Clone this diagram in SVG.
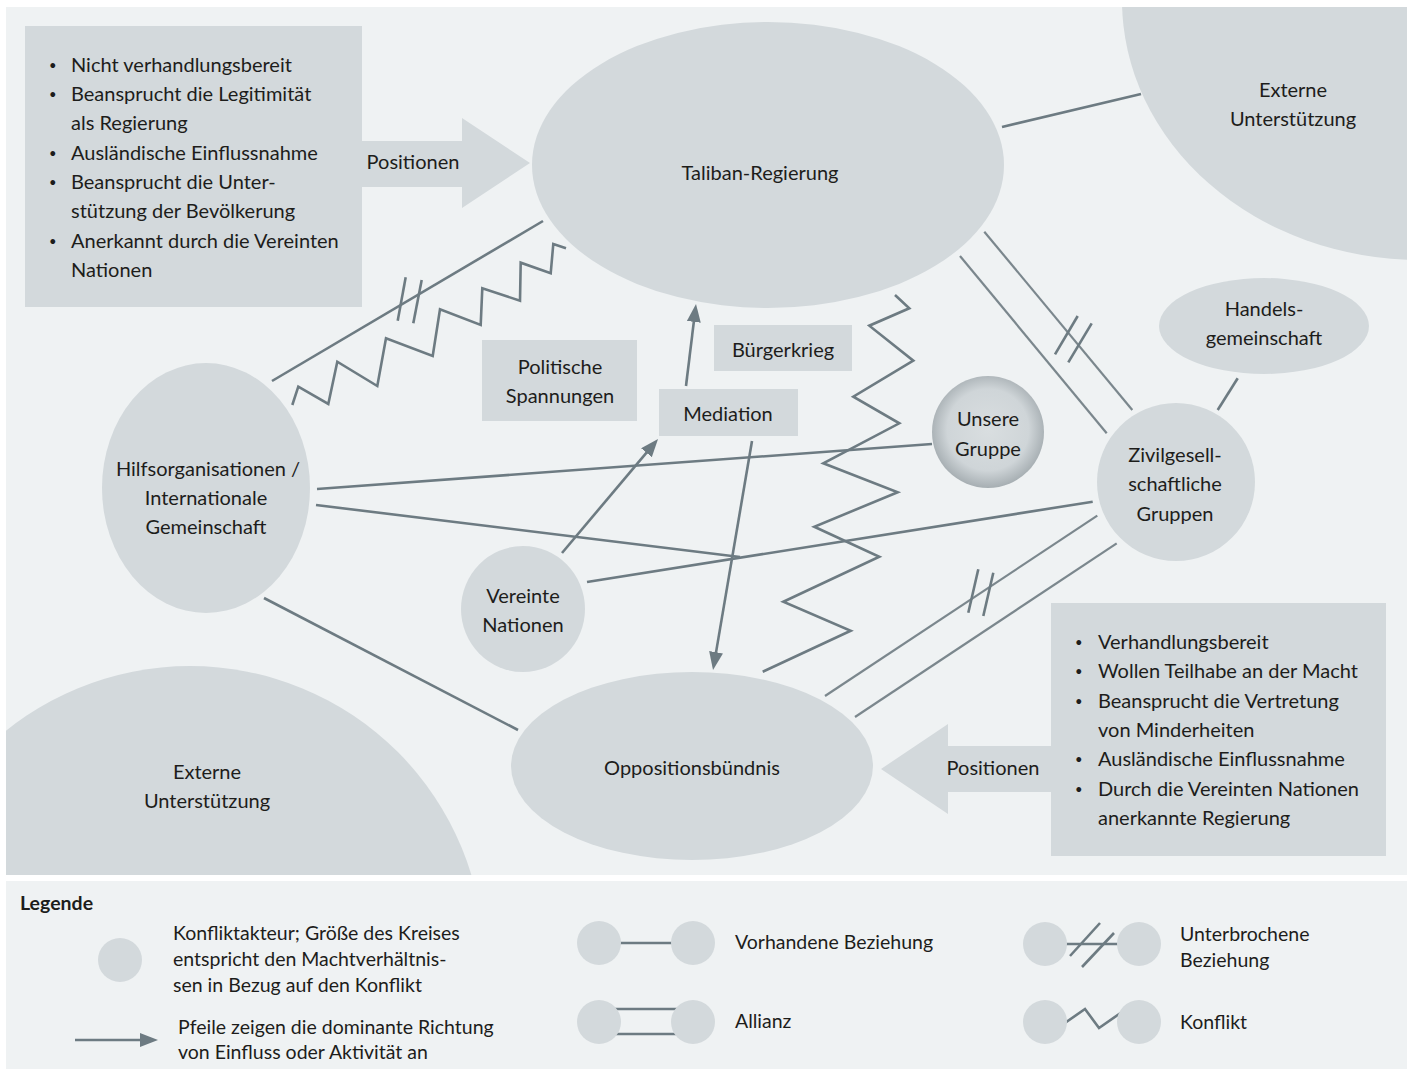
<svg xmlns="http://www.w3.org/2000/svg" width="1413" height="1074" viewBox="0 0 1413 1074">
<defs>
<style>
.t{font-family:Lato,"Open Sans","Liberation Sans",sans-serif;font-size:20px;fill:#1d1d1b}
.lg{font-size:19.5px}
.bu{font-size:13px}
.c{text-anchor:middle}
.b{font-weight:bold}
.node{fill:#d3d9dc}
.box{fill:#d3d9dc}
.ln{stroke:#6d7b82;stroke-width:2.6;fill:none}
.al{stroke:#7b878d;stroke-width:2.2;fill:none}
.zz{stroke:#6d7b82;stroke-width:2.6;fill:none;stroke-linejoin:miter}
.arr{stroke:#6d7b82;stroke-width:2.6;fill:none;marker-end:url(#ah)}
</style>
<marker id="ah" markerUnits="userSpaceOnUse" markerWidth="20" markerHeight="16" refX="8" refY="7" orient="auto">
<path d="M0,0 L18,7 L0,14 z" fill="#6d7b82"/>
</marker>
<radialGradient id="ug" cx="0.5" cy="0.48" r="0.52">
<stop offset="0" stop-color="#d9dee0"/>
<stop offset="0.7" stop-color="#cfd5d8"/>
<stop offset="1" stop-color="#a6aeb2"/>
</radialGradient>
<clipPath id="pc"><rect x="6" y="7" width="1401" height="868"/></clipPath>
</defs>

<rect x="0" y="0" width="1413" height="1074" fill="#ffffff"/>
<rect id="panel" x="6" y="7" width="1401" height="868" fill="#eff2f3"/>
<rect id="legend-bg" x="6" y="881" width="1401" height="188" fill="#eff2f3"/>

<g id="ext-top" clip-path="url(#pc)">
<ellipse class="node" cx="1420" cy="0" rx="298" ry="260"/>
<text class="t c" x="1293" y="97">Externe</text>
<text class="t c" x="1293" y="126">Unterstützung</text>
</g>
<g id="ext-bottom" clip-path="url(#pc)">
<circle class="node" cx="190" cy="960" r="294"/>
<text class="t c" x="207" y="779">Externe</text>
<text class="t c" x="207" y="808">Unterstützung</text>
</g>

<g id="positions-top">
<rect class="box" x="25" y="26" width="337" height="281"/>
<polygon class="box" points="362,141 462,141 462,118 530,163 462,208 462,187 362,187"/>
<text class="t bu" x="49" y="70">•</text><text class="t" x="71" y="72">Nicht verhandlungsbereit</text>
<text class="t bu" x="49" y="99">•</text><text class="t" x="71" y="101">Beansprucht die Legitimität</text>
<text class="t" x="71" y="130">als Regierung</text>
<text class="t bu" x="49" y="158">•</text><text class="t" x="71" y="160">Ausländische Einflussnahme</text>
<text class="t bu" x="49" y="187">•</text><text class="t" x="71" y="189">Beansprucht die Unter-</text>
<text class="t" x="71" y="218">stützung der Bevölkerung</text>
<text class="t bu" x="49" y="246">•</text><text class="t" x="71" y="248">Anerkannt durch die Vereinten</text>
<text class="t" x="71" y="277">Nationen</text>
<text class="t c" x="413" y="169">Positionen</text>
</g>

<g id="positions-bottom">
<rect class="box" x="1051" y="603" width="335" height="253"/>
<polygon class="box" points="1051,746 948,746 948,724 881,769 948,814 948,792 1051,792"/>
<text class="t bu" x="1075" y="647">•</text><text class="t" x="1098" y="649">Verhandlungsbereit</text>
<text class="t bu" x="1075" y="676">•</text><text class="t" x="1098" y="678">Wollen Teilhabe an der Macht</text>
<text class="t bu" x="1075" y="706">•</text><text class="t" x="1098" y="708">Beansprucht die Vertretung</text>
<text class="t" x="1098" y="737">von Minderheiten</text>
<text class="t bu" x="1075" y="764">•</text><text class="t" x="1098" y="766">Ausländische Einflussnahme</text>
<text class="t bu" x="1075" y="794">•</text><text class="t" x="1098" y="796">Durch die Vereinten Nationen</text>
<text class="t" x="1098" y="825">anerkannte Regierung</text>
<text class="t c" x="993" y="775">Positionen</text>
</g>

<g id="taliban">
<ellipse class="node" cx="768" cy="165" rx="236" ry="143"/>
<text class="t c" x="760" y="180">Taliban-Regierung</text>
</g>
<g id="hilfs">
<ellipse class="node" cx="206" cy="488" rx="104" ry="125"/>
<text class="t c" x="208" y="476">Hilfsorganisationen /</text>
<text class="t c" x="206" y="505">Internationale</text>
<text class="t c" x="206" y="534">Gemeinschaft</text>
</g>
<g id="vereinte">
<ellipse class="node" cx="523" cy="609" rx="62" ry="63"/>
<text class="t c" x="523" y="603">Vereinte</text>
<text class="t c" x="523" y="632">Nationen</text>
</g>
<g id="opposition">
<ellipse class="node" cx="692" cy="766" rx="181" ry="94"/>
<text class="t c" x="692" y="775">Oppositionsbündnis</text>
</g>
<g id="unsere">
<circle cx="988" cy="432" r="56" fill="url(#ug)"/>
<text class="t c" x="988" y="426">Unsere</text>
<text class="t c" x="988" y="456">Gruppe</text>
</g>
<g id="zivil">
<circle class="node" cx="1176" cy="482" r="79"/>
<text class="t c" x="1175" y="462">Zivilgesell-</text>
<text class="t c" x="1175" y="491">schaftliche</text>
<text class="t c" x="1175" y="521">Gruppen</text>
</g>
<g id="handels">
<ellipse class="node" cx="1264" cy="326" rx="105" ry="48"/>
<text class="t c" x="1264" y="316">Handels-</text>
<text class="t c" x="1264" y="345">gemeinschaft</text>
</g>

<g id="label-spannungen">
<rect class="box" x="482" y="340" width="155" height="81"/>
<text class="t c" x="560" y="374">Politische</text>
<text class="t c" x="560" y="403">Spannungen</text>
</g>
<g id="label-buergerkrieg">
<rect class="box" x="714" y="325" width="138" height="46"/>
<text class="t c" x="783" y="357">Bürgerkrieg</text>
</g>
<g id="label-mediation">
<rect class="box" x="659" y="389" width="139" height="47"/>
<text class="t c" x="728" y="421">Mediation</text>
</g>

<g id="connectors">
<line class="ln" x1="1002" y1="127" x2="1141" y2="94"/>
<line class="ln" x1="272" y1="381" x2="543" y2="221"/>
<line class="ln" x1="405.7" y1="277.3" x2="397.7" y2="320.7"/>
<line class="ln" x1="421.7" y1="280" x2="413.3" y2="323.3"/>
<polyline class="zz" points="292.3,405 298.3,386.7 328.3,404 337.3,361.7 377.3,386 386,338.3 432.7,356 440,309.3 480.7,325 482.3,288.3 520,300.7 520.7,262.7 550.7,273.3 553.3,244 566,248.3"/>
<polyline class="zz" points="895,295 909.3,308.3 869.3,325.7 913.3,360.7 853.3,396.7 899.3,423.3 823.3,463.3 897.7,492.3 814.3,526.7 879.3,556.7 783.3,601.7 850.7,630.7 762.7,671.7"/>
<line class="al" x1="984.3" y1="231.7" x2="1132.3" y2="410"/>
<line class="al" x1="960" y1="256" x2="1106.7" y2="433.3"/>
<line class="ln" x1="1077.7" y1="316" x2="1055" y2="354.3"/>
<line class="ln" x1="1091.7" y1="323.3" x2="1068.3" y2="362.3"/>
<line class="al" x1="825" y1="696" x2="1097.3" y2="515.7"/>
<line class="al" x1="855" y1="717" x2="1116.7" y2="543.3"/>
<line class="ln" x1="978.3" y1="569.3" x2="968.3" y2="612.7"/>
<line class="ln" x1="993.3" y1="572.7" x2="983.3" y2="616"/>
<line class="ln" x1="1237.7" y1="378.3" x2="1217.7" y2="410"/>
<line class="ln" x1="317" y1="489" x2="932" y2="444"/>
<line class="ln" x1="316" y1="505" x2="740" y2="557"/>
<line class="ln" x1="587" y1="582" x2="1092.7" y2="501.7"/>
<line class="ln" x1="264" y1="598" x2="518" y2="730"/>
<line class="arr" x1="562" y1="553" x2="651.6" y2="446.6"/>
<line class="arr" x1="686" y1="386" x2="694.8" y2="313.9"/>
<line class="arr" x1="752" y1="441" x2="714.7" y2="660.1"/>
</g>

<g id="legend">
<text class="t b lg" x="20" y="910">Legende</text>
<circle class="node" cx="120" cy="960" r="22"/>
<text class="t lg" x="173" y="940">Konfliktakteur; Größe des Kreises</text>
<text class="t lg" x="173" y="966">entspricht den Machtverhältnis-</text>
<text class="t lg" x="173" y="992">sen in Bezug auf den Konflikt</text>
<line class="arr" x1="75" y1="1040" x2="148" y2="1040"/>
<text class="t lg" x="178" y="1034">Pfeile zeigen die dominante Richtung</text>
<text class="t lg" x="178" y="1059">von Einfluss oder Aktivität an</text>

<line class="ln" x1="615" y1="943" x2="676" y2="943"/>
<circle class="node" cx="599" cy="943" r="22"/>
<circle class="node" cx="693" cy="943" r="22"/>
<text class="t lg" x="735" y="949">Vorhandene Beziehung</text>

<line class="ln" x1="612" y1="1009" x2="680" y2="1009"/>
<line class="ln" x1="612" y1="1034" x2="680" y2="1034"/>
<circle class="node" cx="599" cy="1022" r="22"/>
<circle class="node" cx="693" cy="1022" r="22"/>
<text class="t lg" x="735" y="1028">Allianz</text>

<line class="ln" x1="1060" y1="944" x2="1124" y2="944"/>
<line class="ln" x1="1100" y1="923" x2="1070" y2="956"/>
<line class="ln" x1="1114" y1="933" x2="1082" y2="967"/>
<circle class="node" cx="1045" cy="944" r="22"/>
<circle class="node" cx="1139" cy="944" r="22"/>
<text class="t lg" x="1180" y="941">Unterbrochene</text>
<text class="t lg" x="1180" y="967">Beziehung</text>

<polyline class="zz" points="1062,1025 1085,1009 1099,1028 1122,1012"/>
<circle class="node" cx="1045" cy="1022" r="22"/>
<circle class="node" cx="1139" cy="1022" r="22"/>
<text class="t lg" x="1180" y="1029">Konflikt</text>
</g>
</svg>
